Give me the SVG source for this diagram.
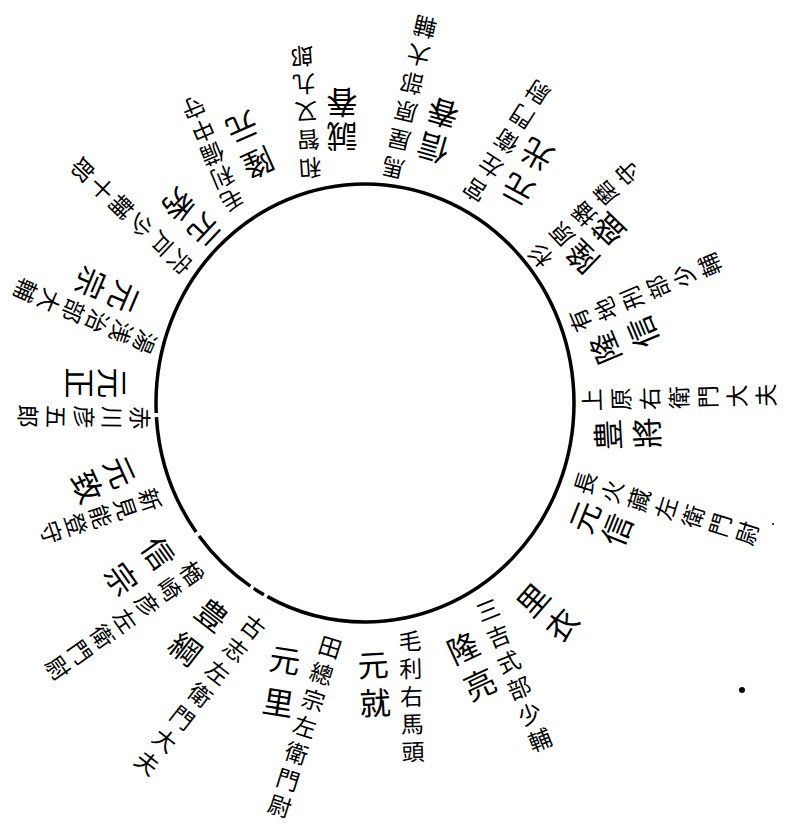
<svg xmlns="http://www.w3.org/2000/svg" width="786" height="827" viewBox="0 0 786 827">
<style>
text{font-family:"Noto Sans CJK JP","Noto Sans CJK TC",sans-serif;fill:#000;writing-mode:vertical-rl;}
.t{font-size:23px;}
.n{font-size:31px;}
</style>
<rect width="786" height="827" fill="#fff"/>
<g id="connectors">
<ellipse cx="365" cy="403" rx="209" ry="219" fill="none" stroke="#000" stroke-width="3.5" stroke-dasharray="438 4 12 4 72 5 123 4 900"/>
</g>
<g id="g9"><text class="t" transform="translate(410,641) rotate(-1.5)" y="-11.5" letter-spacing="4.7">毛利右馬頭</text><text class="n" transform="translate(373,665) rotate(-3)" y="-15.5" letter-spacing="7">元就</text></g>
<g id="g10"><text class="t" transform="translate(330,647) rotate(17.5)" y="-11.5" letter-spacing="4.8">田總宗左衛門尉</text><text class="n" transform="translate(285,660) rotate(9)" y="-15.5" letter-spacing="12">元里</text></g>
<g id="g8"><text class="t" transform="translate(488,610) rotate(-21.8)" y="-11.5" letter-spacing="5">三吉式部少輔</text><text class="n" transform="translate(463,648) rotate(-25)" y="-15.5" letter-spacing="9">隆亮</text></g>
<g id="g7"><text class="n" transform="translate(533,600) rotate(-49)" y="-15.5" letter-spacing="7">里衣</text></g>
<g id="g6"><text class="t" transform="translate(585,483) rotate(-72.8)" y="-11.5" letter-spacing="5.3">長火藏左衛門尉</text><text class="n" transform="translate(585,517) rotate(-68)" y="-15.5" letter-spacing="3.5">元信</text></g>
<g id="g5"><text class="t" transform="translate(592,400) rotate(-91.6)" y="-11.5" letter-spacing="6">上原右衛門大夫</text><text class="n" transform="translate(608,435) rotate(-93)" y="-15.5" letter-spacing="8">豊將</text></g>
<g id="g4"><text class="t" transform="translate(580,320) rotate(-112.9)" y="-11.5" letter-spacing="5.2">有地刑部少輔</text><text class="n" transform="translate(605,348) rotate(-112.8)" y="-15.5" letter-spacing="10">隆信</text></g>
<g id="g3"><text class="t" transform="translate(540,255) rotate(-133.3)" y="-11.5" letter-spacing="7">杉原播磨守</text><text class="n" transform="translate(582,257) rotate(-136)" y="-15.5" letter-spacing="6.5">隆盛</text></g>
<g id="g2"><text class="t" transform="translate(475,190) rotate(-147.4)" y="-11.5" letter-spacing="6">宮左衛門尉</text><text class="n" transform="translate(518,190) rotate(-151.5)" y="-15.5" letter-spacing="9">元光</text></g>
<g id="g1"><text class="t" transform="translate(393,168) rotate(-167.2)" y="-11.5" letter-spacing="5.9">馬屋原部大輔</text><text class="n" transform="translate(433,148) rotate(-164)" y="-15.5" letter-spacing="5">信春</text></g>
<g id="g18"><text class="t" transform="translate(310,168) rotate(176)" y="-11.5" letter-spacing="5">和智又九郎</text><text class="n" transform="translate(342,137) rotate(180)" y="-15.5" letter-spacing="3">誠春</text></g>
<g id="g17"><text class="t" transform="translate(232,200) rotate(157.2)" y="-11.5" letter-spacing="2">毛利備中守</text><text class="n" transform="translate(258,163) rotate(156)" y="-15.5" letter-spacing="8">隆元</text></g>
<g id="g16"><text class="t" transform="translate(180,262) rotate(133.5)" y="-11.5" letter-spacing="3.8">宍戸少輔十郎</text><text class="n" transform="translate(205,230) rotate(133.5)" y="-15.5" letter-spacing="6">元秀</text></g>
<g id="g15"><text class="t" transform="translate(145,342) rotate(113.4)" y="-11.5" letter-spacing="3">湯浅治部大輔</text><text class="n" transform="translate(124,297) rotate(113)" y="-15.5" letter-spacing="5">元宗</text></g>
<g id="g14"><text class="t" transform="translate(140,418) rotate(91)" y="-11.5" letter-spacing="5">赤川彦五郎</text><text class="n" transform="translate(113,383) rotate(90)" y="-15.5" letter-spacing="2">元正</text></g>
<g id="g13"><text class="t" transform="translate(150,500) rotate(71.7)" y="-11.5" letter-spacing="3">新見能登守</text><text class="n" transform="translate(120,472) rotate(65.6)" y="-15.5" letter-spacing="5">元致</text></g>
<g id="g12"><text class="t" transform="translate(192,573) rotate(54.7)" y="-11.5" letter-spacing="4.4">楢崎彦左衛門尉</text><text class="n" transform="translate(158,553) rotate(54.6)" y="-15.5" letter-spacing="14">信宗</text></g>
<g id="g11"><text class="t" transform="translate(253,627) rotate(37.9)" y="-11.5" letter-spacing="5.7">古志左衛門大夫</text><text class="n" transform="translate(212,615) rotate(38)" y="-15.5" letter-spacing="12">豊綱</text></g>
<circle cx="742" cy="690" r="3" fill="#000"/>
<circle cx="773" cy="524" r="1" fill="#000"/>
</svg>
